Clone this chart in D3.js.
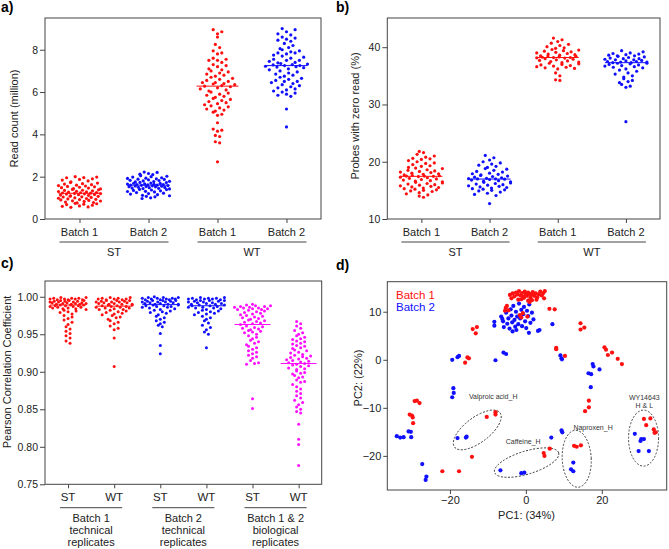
<!DOCTYPE html>
<html><head><meta charset="utf-8">
<script src="https://cdn.jsdelivr.net/npm/d3@7"></script>
<style>
body{margin:0;background:#fff}
svg{display:block;font-family:"Liberation Sans",Arial,Helvetica,sans-serif}
</style>
</head><body>
<svg id="chart" width="669" height="549"></svg>
<script>
// ---------------- DATA ----------------
// Panel a: read count (million)
const readCats = ["ST-B1", "ST-B2", "WT-B1", "WT-B2"];
const batchLabels = ["Batch 1", "Batch 2", "Batch 1", "Batch 2"];
const typeLabels = ["ST", "WT"];
const yTicksA = [0, 2, 4, 6, 8];
const readST_B1 = [2.0,1.98,1.96,1.95,1.9,1.87,1.84,1.8,1.76,1.72,1.7,1.67,1.65,1.62,1.6,1.58,1.56,1.54,1.52,1.5,1.48,1.46,1.44,1.42,1.4,1.38,1.36,1.35,1.33,1.31,1.3,1.28,1.27,1.25,1.24,1.23,1.22,1.21,1.2,1.19,1.18,1.16,1.15,1.13,1.12,1.1,1.08,1.07,1.05,1.04,1.02,1.0,0.98,0.97,0.95,0.93,0.92,0.9,0.88,0.86,0.85,0.83,0.8,0.78,0.76,0.74,0.72,0.7,0.68,0.65,0.62,0.6,0.57,0.55];
const readST_B2 = [2.22,2.2,2.15,2.12,2.1,2.05,2.02,2.0,1.98,1.95,1.93,1.92,1.9,1.88,1.87,1.85,1.83,1.82,1.8,1.78,1.77,1.75,1.73,1.72,1.7,1.69,1.68,1.66,1.65,1.64,1.63,1.62,1.61,1.6,1.6,1.59,1.58,1.57,1.56,1.55,1.54,1.53,1.52,1.5,1.49,1.48,1.46,1.45,1.44,1.42,1.4,1.39,1.37,1.35,1.33,1.31,1.3,1.28,1.25,1.22,1.2,1.18,1.15,1.12,1.1,1.07,1.05,1.0,0.97];
const readWT_B1 = [8.95,8.85,8.75,8.6,8.25,8.1,7.95,7.85,7.8,7.6,7.55,7.5,7.5,7.4,7.3,7.25,7.2,7.1,7.05,7.0,6.95,6.9,6.85,6.8,6.75,6.7,6.65,6.6,6.55,6.5,6.45,6.45,6.4,6.38,6.35,6.3,6.28,6.25,6.2,6.15,6.1,6.05,6.0,5.95,5.9,5.85,5.8,5.75,5.7,5.65,5.6,5.55,5.5,5.45,5.4,5.35,5.3,5.25,5.2,5.15,5.1,5.05,4.95,4.9,4.55,4.25,4.2,4.15,3.95,3.9,3.65,3.6,2.7];
const readWT_B2 = [9.0,8.95,8.85,8.75,8.7,8.6,8.55,8.5,8.45,8.4,8.3,8.2,8.1,8.05,8.0,7.95,7.9,7.85,7.85,7.8,7.75,7.7,7.65,7.6,7.55,7.5,7.5,7.45,7.4,7.38,7.35,7.32,7.3,7.28,7.25,7.25,7.22,7.2,7.18,7.15,7.1,7.05,7.0,6.95,6.9,6.85,6.8,6.75,6.7,6.65,6.6,6.55,6.5,6.5,6.45,6.4,6.35,6.3,6.25,6.2,6.15,6.1,6.05,6.0,5.95,5.9,5.85,5.8,5.2,4.35];

// Panel b: probes with zero read (%)
const yTicksB = [10, 20, 30, 40];
const zeroST_B1 = [21.8,21.6,21.3,21.0,20.8,20.6,20.5,20.4,20.2,20.0,19.8,19.7,19.5,19.3,19.2,19.0,18.9,18.8,18.6,18.5,18.4,18.3,18.2,18.1,18.0,17.9,17.8,17.7,17.6,17.55,17.5,17.5,17.45,17.4,17.3,17.2,17.1,17.0,16.9,16.8,16.7,16.6,16.5,16.4,16.3,16.2,16.1,16.0,15.9,15.8,15.7,15.6,15.5,15.4,15.3,15.2,15.1,15.0,14.9,14.8,14.6,14.4,14.2,14.0,13.8];
const zeroST_B2 = [21.1,20.7,20.3,20.0,19.8,19.6,19.4,19.2,19.0,18.8,18.7,18.5,18.3,18.2,18.0,17.9,17.8,17.7,17.6,17.5,17.4,17.3,17.2,17.1,17.05,17.0,17.0,16.95,16.9,16.8,16.7,16.6,16.5,16.4,16.3,16.2,16.1,16.0,15.9,15.8,15.7,15.6,15.5,15.4,15.3,15.2,15.1,15.0,14.9,14.7,14.5,14.3,14.1,12.7];
const zeroWT_B1 = [41.6,41.3,41.0,40.7,40.5,40.3,40.1,39.9,39.8,39.6,39.5,39.4,39.3,39.2,39.1,39.0,38.9,38.8,38.7,38.6,38.5,38.45,38.4,38.3,38.25,38.2,38.2,38.15,38.1,38.0,37.9,37.8,37.7,37.6,37.5,37.4,37.3,37.2,37.1,37.0,36.9,36.8,36.7,36.6,36.5,36.4,36.3,36.2,35.5,35.0,34.3,34.2];
const zeroWT_B2 = [39.4,39.2,39.0,38.9,38.8,38.7,38.6,38.5,38.5,38.4,38.3,38.2,38.1,38.0,38.0,37.9,37.8,37.8,37.7,37.6,37.5,37.5,37.4,37.4,37.3,37.3,37.2,37.2,37.1,37.0,36.9,36.8,36.7,36.6,36.5,36.4,36.2,36.0,35.8,35.5,35.3,35.0,34.8,34.5,34.2,34.0,33.8,33.5,33.2,33.0,27.0];

// Panel c: Pearson correlation coefficient
const corrCats = ["B1-ST", "B1-WT", "B2-ST", "B2-WT", "B12-ST", "B12-WT"];
const corrCatLabels = ["ST", "WT", "ST", "WT", "ST", "WT"];
const corrGroupLabels = [["Batch 1", "technical", "replicates"], ["Batch 2", "technical", "replicates"], ["Batch 1 & 2", "biological", "replicates"]];
const yTicksC = [0.75, 0.80, 0.85, 0.90, 0.95, 1.00];
const corrB1_ST = [0.999,0.999,0.998,0.998,0.998,0.997,0.997,0.997,0.996,0.996,0.996,0.995,0.995,0.995,0.994,0.994,0.994,0.993,0.993,0.993,0.992,0.992,0.992,0.991,0.991,0.991,0.990,0.990,0.990,0.989,0.989,0.989,0.988,0.988,0.988,0.987,0.987,0.986,0.986,0.985,0.985,0.984,0.984,0.983,0.982,0.981,0.980,0.979,0.977,0.975,0.973,0.971,0.969,0.966,0.963,0.960,0.957,0.954,0.951,0.948,0.945,0.941,0.938];
const corrB1_WT = [0.999,0.999,0.998,0.998,0.997,0.997,0.997,0.996,0.996,0.995,0.995,0.995,0.994,0.994,0.993,0.993,0.993,0.992,0.992,0.991,0.991,0.990,0.990,0.990,0.989,0.989,0.988,0.988,0.987,0.987,0.986,0.986,0.985,0.985,0.984,0.983,0.983,0.982,0.981,0.980,0.979,0.978,0.977,0.976,0.975,0.973,0.972,0.970,0.968,0.966,0.964,0.961,0.958,0.956,0.945,0.907];
const corrB2_ST = [1.000,0.999,0.999,0.999,0.998,0.998,0.998,0.997,0.997,0.997,0.996,0.996,0.996,0.995,0.995,0.995,0.994,0.994,0.993,0.993,0.993,0.992,0.992,0.991,0.991,0.990,0.990,0.990,0.989,0.989,0.988,0.988,0.987,0.987,0.986,0.986,0.985,0.984,0.983,0.982,0.981,0.980,0.979,0.978,0.976,0.974,0.972,0.970,0.968,0.966,0.964,0.962,0.960,0.951,0.935,0.924];
const corrB2_WT = [0.999,0.999,0.998,0.998,0.998,0.997,0.997,0.997,0.996,0.996,0.995,0.995,0.995,0.994,0.994,0.993,0.993,0.992,0.992,0.991,0.991,0.990,0.990,0.989,0.989,0.988,0.988,0.987,0.986,0.986,0.985,0.985,0.984,0.983,0.982,0.981,0.980,0.979,0.978,0.977,0.976,0.974,0.972,0.970,0.968,0.965,0.962,0.959,0.956,0.953,0.950,0.932];
const corrB12_ST = [0.990,0.989,0.988,0.988,0.987,0.987,0.986,0.986,0.985,0.985,0.984,0.984,0.983,0.983,0.982,0.981,0.980,0.979,0.978,0.977,0.976,0.975,0.974,0.973,0.972,0.971,0.970,0.969,0.968,0.967,0.966,0.965,0.964,0.963,0.961,0.960,0.959,0.958,0.957,0.956,0.955,0.954,0.953,0.952,0.950,0.948,0.946,0.944,0.942,0.940,0.938,0.936,0.934,0.932,0.930,0.928,0.926,0.924,0.922,0.920,0.918,0.915,0.912,0.911,0.910,0.864,0.851];
const corrB12_WT = [0.967,0.964,0.961,0.958,0.955,0.952,0.950,0.948,0.946,0.944,0.943,0.941,0.940,0.938,0.937,0.935,0.934,0.932,0.931,0.929,0.928,0.926,0.925,0.923,0.922,0.921,0.920,0.919,0.918,0.917,0.916,0.915,0.914,0.913,0.912,0.911,0.910,0.909,0.908,0.907,0.905,0.904,0.903,0.901,0.899,0.898,0.897,0.895,0.893,0.892,0.889,0.887,0.886,0.883,0.880,0.877,0.874,0.871,0.868,0.865,0.862,0.859,0.856,0.853,0.850,0.847,0.845,0.830,0.810,0.803,0.775];

// Panel d: PCA scores
const pcaLegend = ["Batch 1", "Batch 2"];
const xTicksD = [-20, 0, 20];
const yTicksD = [-20, -10, 0, 10];
const pc1Batch1 = [-4.2,-3.5,-3.0,-2.6,-2.2,-1.8,-1.4,-1.0,-0.7,-0.3,0.0,0.3,0.6,0.9,1.2,1.5,1.8,2.2,2.6,3.0,3.4,3.8,4.2,4.6,5.0,4.8,0.6,1.0,1.6,-1.2,-3.8,-2.0,2.8,-0.5,-5.3,-5.0,-4.6,-5.5,-1.6,-0.8,0.4,-1.2,6.2,7.6,
  -14.0,-12.9,-13.2,14.4,15.4,14.4,8.0,8.0,10.3,20.7,21.1,21.6,22.7,24.2,25.3,-15.4,-15.0,-16.0,-29.3,-28.7,-28.0,-30.6,-30.0,-29.8,-29.7,
  -10.3,-8.0,-8.0,-14.2,-22.0,-17.6,4.7,4.9,6.3,12.7,13.4,14.5,16.6,16.6,15.6,31.1,32.8,31.7,33.7,33.9,34.2];
const pc2Batch1 = [13.5,13.8,13.2,14.0,13.6,14.3,13.4,13.9,13.1,14.2,13.6,13.3,14.0,13.7,12.9,13.5,14.1,13.3,13.8,13.0,13.6,14.2,13.4,13.9,14.3,12.8,12.3,12.0,12.4,12.6,12.8,12.5,12.5,12.9,10.8,11.2,10.3,10.2,9.3,9.7,9.0,8.8,10.6,10.5,
  6.4,6.8,5.5,7.6,6.7,6.3,2.5,2.2,0.8,2.6,2.1,1.0,1.5,0.2,-0.9,0.5,0.3,-0.6,-8.6,-8.5,-9.0,-11.4,-11.6,-12.0,-13.2,
  -11.9,-10.9,-11.4,-20.2,-23.2,-23.2,-19.4,-20.0,-18.5,-17.9,-18.1,-17.8,-8.5,-9.9,-10.7,-12.3,-12.2,-13.6,-14.5,-15.2,-15.1];
const pc1Batch2 = [-8.3,-8.3,-6.5,-6.0,-5.8,-5.2,-4.9,-4.6,-4.3,-4.0,-3.8,-3.6,-3.3,-3.0,-2.8,-2.6,-2.3,-2.0,-1.8,-1.5,-1.2,-1.0,-0.7,-0.5,-0.2,0.1,0.3,0.6,0.9,1.2,1.6,2.0,-2.5,-6.2,-3.5,3.2,3.6,0.8,7.0,
  -5.9,-5.2,-8.0,-19.4,-18.0,-17.6,-19.1,-19.0,-19.4,9.1,9.4,9.5,17.6,17.8,16.5,17.2,17.1,19.4,
  -34.0,-33.1,-32.2,-30.9,-30.3,-30.2,-18.0,-15.8,-15.6,-27.3,-26.2,-26.4,-6.7,-1.2,-0.4,6.7,9.4,9.6,12.5,11.9,12.5,28.7,30.2,30.4,31.1,29.7,32.4];
const pc2Batch2 = [7.9,7.1,9.0,8.0,6.8,9.8,7.5,8.6,6.5,10.5,9.2,7.8,11.2,8.3,6.9,10.0,9.0,7.4,11.7,8.6,10.4,7.0,9.5,11.0,8.0,6.6,10.2,9.1,11.5,7.7,9.8,8.4,6.2,8.5,5.9,6.0,6.2,5.6,7.4,
  1.5,1.2,-0.1,0.0,0.55,0.8,-5.9,-6.9,-7.8,0.9,0.3,0.1,-0.9,-1.4,-2.8,-3.0,-5.7,-2.0,
  -15.9,-16.2,-16.1,-14.9,-15.0,-16.1,-16.3,-16.2,-16.0,-21.7,-24.3,-25.0,-23.0,-23.6,-23.5,-16.2,-14.7,-15.1,-21.4,-22.8,-23.2,-15.4,-16.9,-16.5,-16.5,-19.0,-19.0];
// annotation ellipses (centre in PC units)
const ellipseNames = ["Valproic acid_H", "Caffeine_H", "Naproxen_H", "WY14643\nH & L"];
const ellipseCx = [-12.8, 0.2, 13.4, 31.0];
const ellipseCy = [-14.6, -21.4, -20.6, -16.3];
const labelPc1 = [-8.6, -0.7, 17.7, 31.2];
const labelPc2 = [-7.6, -17.0, -14.1, -7.9];

// ---------------- DRAWING ----------------
const svg = d3.select("#chart");
const RED = "#ff1010", BLUE = "#1010ff", MAG = "#ff10ff";
const AX = "#444", TXT = "#222";

function swarm(values, cx, y, bin, dx, maxW) {
  const pts = values.map(v => ({ v, py: y(v) }));
  const groups = d3.group(pts, p => Math.floor(p.py / bin));
  groups.forEach(arr => {
    const n = arr.length;
    const step = n > 1 ? Math.min(dx, maxW / (n - 1)) : 0;
    const order = arr.map((p, k) => ({ p, key: (k * 0.6180339 + 0.31) % 1 }))
      .sort((a, b) => a.key - b.key);
    order.forEach((o, k) => { o.p.px = cx + (k - (n - 1) / 2) * step; });
  });
  return pts;
}

function frame(x0, x1, y0, y1) {
  svg.append("rect").attr("x", x0).attr("y", y0).attr("width", x1 - x0).attr("height", y1 - y0)
    .attr("fill", "none").attr("stroke", AX).attr("stroke-width", 1);
}
function styleAxis(g, fs) {
  g.select(".domain").remove();
  g.selectAll("line").attr("stroke", AX);
  g.selectAll("text").attr("fill", TXT).style("font-size", fs + "px").style("font-family", "'Liberation Sans',Arial,sans-serif");
}
function yTitle(text, cx, cy) {
  svg.append("text").attr("transform", `translate(${cx},${cy}) rotate(-90)`)
    .attr("text-anchor", "middle").attr("dy", "0.35em").attr("fill", TXT)
    .style("font-size", "11px").text(text);
}
function panelLabel(t, x, y) {
  svg.append("text").attr("x", x).attr("y", y).attr("fill", "#000")
    .style("font-size", "14px").style("font-weight", "bold").text(t);
}

function dotPanel(cfg) {
  const { cats, series, colors, xr, y, yTicks, fmt, r, bin, dx, maxW, medHalf, y0, y1 } = cfg;
  const x = d3.scalePoint().domain(cats).range(xr).padding(0.5);
  frame(xr[0], xr[1], y1, y0);
  const ga = svg.append("g").attr("transform", `translate(${xr[0]},0)`)
    .call(d3.axisLeft(y).tickValues(yTicks).tickFormat(fmt).tickSize(5).tickPadding(2));
  styleAxis(ga, 10.5);
  const gb = svg.append("g").attr("transform", `translate(0,${y0})`)
    .call(d3.axisBottom(x).tickSize(4).tickFormat(""));
  styleAxis(gb, 10);
  series.forEach((vals, i) => {
    const cx = x(cats[i]);
    const pts = swarm(vals, cx, y, bin, dx, maxW);
    svg.append("g").selectAll("circle").data(pts).join("circle")
      .attr("cx", d => d.px).attr("cy", d => d.py).attr("r", r).attr("fill", colors[i]);
    const med = d3.median(vals);
    svg.append("line").attr("x1", cx - medHalf).attr("x2", cx + medHalf)
      .attr("y1", y(med)).attr("y2", y(med)).attr("stroke", colors[i]).attr("stroke-width", 1);
  });
  return x;
}

// ---- Panel a ----
panelLabel("a)", 1, 12);
const yA = d3.scaleLinear().domain([0, 9.5]).range([219, 18]);
const xA = dotPanel({ cats: readCats, series: [readST_B1, readST_B2, readWT_B1, readWT_B2],
  colors: [RED, BLUE, RED, BLUE], xr: [45, 321], y: yA, yTicks: yTicksA, fmt: d3.format("d"),
  r: 1.6, bin: 7, dx: 4.3, maxW: 42, medHalf: 21, y0: 219, y1: 18 });
yTitle("Read count (million)", 14, 118.5);

function batchAxis(x, cats, base) {
  cats.forEach((c, i) => {
    svg.append("text").attr("x", x(c)).attr("y", base + 17).attr("text-anchor", "middle")
      .attr("fill", TXT).style("font-size", "11px").text(batchLabels[i]);
  });
  typeLabels.forEach((t, g) => {
    const a = x(cats[g * 2]), b = x(cats[g * 2 + 1]);
    svg.append("line").attr("x1", a - 20).attr("x2", b + 20).attr("y1", base + 23).attr("y2", base + 23)
      .attr("stroke", AX).attr("stroke-width", 1);
    svg.append("text").attr("x", (a + b) / 2).attr("y", base + 36.5).attr("text-anchor", "middle")
      .attr("fill", TXT).style("font-size", "11px").text(t);
  });
}
batchAxis(xA, readCats, 219);

// ---- Panel b ----
panelLabel("b)", 336, 12);
const yB = d3.scaleLinear().domain([10, 45.1]).range([219, 18]);
const xB = dotPanel({ cats: readCats, series: [zeroST_B1, zeroST_B2, zeroWT_B1, zeroWT_B2],
  colors: [RED, BLUE, RED, BLUE], xr: [387.3, 660], y: yB, yTicks: yTicksB, fmt: d3.format("d"),
  r: 1.6, bin: 7, dx: 4.3, maxW: 42, medHalf: 21, y0: 219, y1: 18 });
yTitle("Probes with zero read (%)", 355, 116);
batchAxis(xB, readCats, 219);

// ---- Panel c ----
panelLabel("c)", 1, 268);
const yC = d3.scaleLinear().domain([0.75, 1.021]).range([484.3, 281]);
const xC = dotPanel({ cats: corrCats, series: [corrB1_ST, corrB1_WT, corrB2_ST, corrB2_WT, corrB12_ST, corrB12_WT],
  colors: [RED, RED, BLUE, BLUE, MAG, MAG], xr: [45, 321.7], y: yC, yTicks: yTicksC, fmt: d3.format(".2f"),
  r: 1.5, bin: 5, dx: 4.0, maxW: 36, medHalf: 18, y0: 484.3, y1: 281 });
yTitle("Pearson Correlation Coefficient", 7.5, 372);
corrCats.forEach((c, i) => {
  svg.append("text").attr("x", xC(c)).attr("y", 500.5).attr("text-anchor", "middle")
    .attr("fill", TXT).style("font-size", "11.5px").text(corrCatLabels[i]);
});
corrGroupLabels.forEach((lines, g) => {
  const a = xC(corrCats[g * 2]), b = xC(corrCats[g * 2 + 1]);
  svg.append("line").attr("x1", a - 8).attr("x2", b + 8).attr("y1", 507.7).attr("y2", 507.7)
    .attr("stroke", AX).attr("stroke-width", 1);
  lines.forEach((ln, k) => {
    svg.append("text").attr("x", (a + b) / 2).attr("y", 522 + k * 11.8).attr("text-anchor", "middle")
      .attr("fill", TXT).style("font-size", "11px").text(ln);
  });
});

// ---- Panel d ----
panelLabel("d)", 336, 270);
const xD = d3.scaleLinear().domain([-36.5, 37.1]).range([387.3, 666.7]);
const yD = d3.scaleLinear().domain([-27.1, 16.25]).range([490, 281.7]);
frame(387.3, 666.7, 281.7, 490);
const gdx = svg.append("g").attr("transform", "translate(0,490)")
  .call(d3.axisBottom(xD).tickValues(xTicksD).tickSize(4).tickPadding(2));
styleAxis(gdx, 11);
const gdy = svg.append("g").attr("transform", "translate(387.3,0)")
  .call(d3.axisLeft(yD).tickValues(yTicksD).tickSize(4).tickPadding(2));
styleAxis(gdy, 11);
svg.append("text").attr("x", 526.5).attr("y", 519).attr("text-anchor", "middle")
  .attr("fill", TXT).style("font-size", "11px").text("PC1: (34%)");
yTitle("PC2: (22%)", 358, 378);

// ellipses (pixel semi-axes & rotation are styling of the annotation)
const ellipseStyle = [
  { rx: 28.5, ry: 12.5, rot: -37 },
  { rx: 33.5, ry: 11.5, rot: -17 },
  { rx: 14.5, ry: 28.5, rot: -3 },
  { rx: 15, ry: 28, rot: 0 }
];
ellipseNames.forEach((nm, i) => {
  const cx = xD(ellipseCx[i]), cy = yD(ellipseCy[i]);
  const s = ellipseStyle[i];
  svg.append("ellipse").attr("cx", 0).attr("cy", 0).attr("rx", s.rx).attr("ry", s.ry)
    .attr("transform", `translate(${cx},${cy}) rotate(${s.rot})`)
    .attr("fill", "none").attr("stroke", "#333").attr("stroke-width", 0.9).attr("stroke-dasharray", "2,1.6");
  const lines = nm.split("\n");
  lines.forEach((ln, k) => {
    svg.append("text").attr("x", xD(labelPc1[i])).attr("y", yD(labelPc2[i]) + k * 7.5 + 2.5)
      .attr("text-anchor", "middle").attr("fill", "#333").style("font-size", "7px").text(ln);
  });
});

const ptsD1 = pc1Batch1.map((v, i) => ({ x: v, y: pc2Batch1[i] }));
const ptsD2 = pc1Batch2.map((v, i) => ({ x: v, y: pc2Batch2[i] }));
svg.append("g").selectAll("circle").data(ptsD2).join("circle")
  .attr("cx", d => xD(d.x)).attr("cy", d => yD(d.y)).attr("r", 2.1).attr("fill", BLUE);
svg.append("g").selectAll("circle").data(ptsD1).join("circle")
  .attr("cx", d => xD(d.x)).attr("cy", d => yD(d.y)).attr("r", 2.1).attr("fill", RED);

pcaLegend.forEach((t, i) => {
  svg.append("text").attr("x", 396).attr("y", 298.5 + i * 12.3).attr("fill", i ? BLUE : RED)
    .style("font-size", "11.5px").text(t);
});
</script>
</body></html>
